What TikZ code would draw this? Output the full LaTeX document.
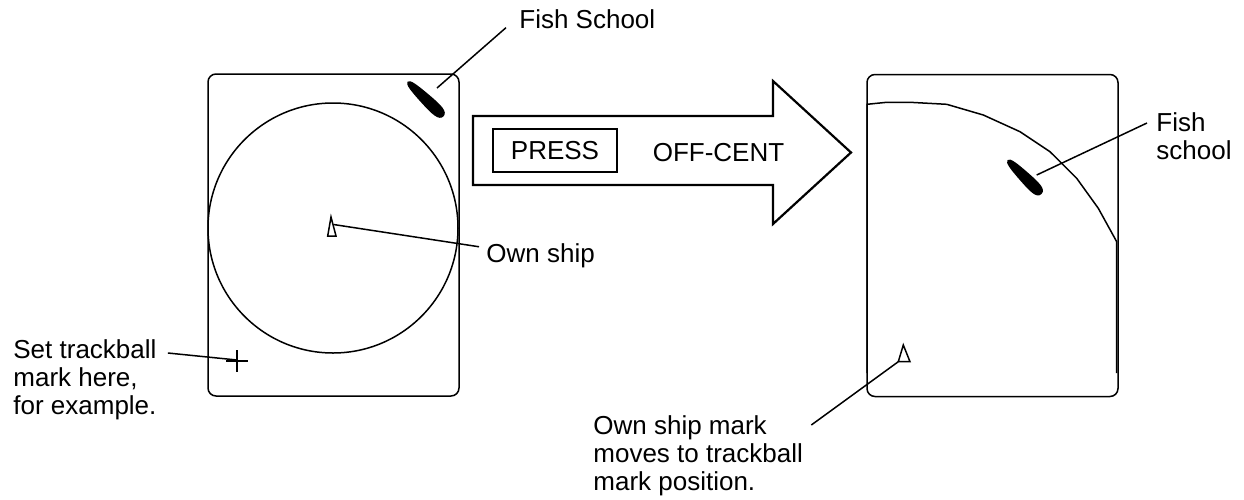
\documentclass[tikz,border=0pt]{standalone}
\usepackage{fontspec}
\setmainfont{Liberation Sans}
\usetikzlibrary{positioning, calc}

\begin{document}
\begin{tikzpicture}[
    x=0.5pt, y=-0.5pt,
    every node/.style={font=\fontsize{13}{14}\selectfont},
    screen/.style={rectangle, draw, line width=0.75pt, rounded corners=4pt, minimum width=125.5pt, minimum height=161pt, inner sep=0pt},
    ring/.style={circle, draw, line width=0.75pt, minimum size=125pt, inner sep=0pt},
    note/.style={align=left, inner sep=2pt},
    leader/.style={line width=0.75pt},
    blob/.style={fill=black},
    bigarrow/.style={draw, line width=1.1pt, line join=miter},
    keybox/.style={rectangle, draw, line width=0.9pt, minimum width=62pt, minimum height=21.5pt, inner sep=0pt}
]
\useasboundingbox (0,0) rectangle (1244,499);

% ============ CENTRED DISPLAY (LEFT) ============
\node[screen] (screenL) at (333.5,235) {};
\node[ring] (ringL) at (333,228) {};

% Own ship and trackball mark
\draw[leader] (331,217) -- (336,236) -- (327.7,236) -- cycle;
\coordinate (shipL) at (333.5,224.5);
\draw[leader] (226,361) -- (248,361) (237,350) -- (237,372);
\coordinate (trackMark) at (237,360);

% Fish school echo
\fill[blob, shift={(425.5,99)}, rotate=-44] (-25,0) .. controls (-25,-3.5) and (-15,-4.5) .. (0,-5.5)
    .. controls (15,-6.5) and (25,-6.5) .. (25,0) .. controls (25,6.5) and (15,6.5) .. (0,5.5)
    .. controls (-15,4.5) and (-25,3.5) .. (-25,0) -- cycle;
\coordinate (fishL) at (437,88);

% Labels
\node[note, anchor=base west] (fishLabelL) at (515,28) {Fish School};
\node[note, anchor=base west] (ownLabel) at (482,262) {Own ship};
\node[note, anchor=north west] (trackLabel) at (9,335) {Set trackball\\mark here,\\for example.};

\draw[leader] (fishL) -- ([xshift=-4.5pt, yshift=2.5pt]fishLabelL.south west);
\draw[leader] (shipL) -- ([xshift=-1.5pt, yshift=-4pt]ownLabel.north west);
\draw[leader] (trackMark) -- ([xshift=3.5pt, yshift=-9pt]trackLabel.north east);

% ============ KEY ARROW ============
\draw[bigarrow] (473,116) -- (773,116) -- (773,81) -- (851,152.5) -- (773,224) -- (773,185) -- (473,185) -- cycle;
\node[keybox] (pressKey) at (555,150.5) {PRESS};
\node[anchor=base] (offCent) at (718.5,161.5) {OFF-CENT};

% ============ OFF-CENTRED DISPLAY (RIGHT) ============
\node[screen] (screenR) at (992.5,235.5) {};
\draw[leader] (867,373) -- (867,104.3) -- (886.7,102.3) -- (910,102.3) -- (946.7,104.3)
    -- (983.3,115) -- (1020,131.7) -- (1050,151.7) -- (1076.7,178.3)
    -- (1098.3,208.3) -- (1116.7,241.7) -- (1116.7,373);

% Own ship moved to trackball position
\draw[leader] (903.3,345) -- (910,361.7) -- (898.3,361.7) -- cycle;
\coordinate (shipR) at (898.3,361.7);

% Fish school echo
\fill[blob, shift={(1024.5,177)}, rotate=-45] (-24,0) .. controls (-24,-3.5) and (-15,-4.5) .. (0,-5.5)
    .. controls (15,-6.5) and (24,-6.5) .. (24,0) .. controls (24,6.5) and (15,6.5) .. (0,5.5)
    .. controls (-15,4.5) and (-24,3.5) .. (-24,0) -- cycle;
\coordinate (fishR) at (1036.7,175);

% Labels
\node[note, anchor=north west] (shipMarkLabel) at (589,411) {Own ship mark\\moves to trackball\\mark position.};
\node[note, anchor=north west] (fishLabelR) at (1152,108) {Fish\\school};

\draw[leader] (shipR) -- ([xshift=2pt, yshift=-7pt]shipMarkLabel.north east);
\draw[leader] (fishR) -- ([xshift=-2.5pt, yshift=-7.5pt]fishLabelR.north west);

\end{tikzpicture}
\end{document}
